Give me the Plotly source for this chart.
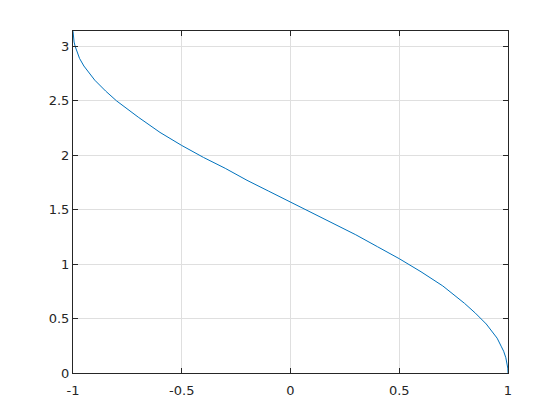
import plotly.graph_objects as go

# values
x_vals = [-1, -0.999, -0.998, -0.995, -0.99, -0.98, -0.97, -0.95, -0.9, -0.85, -0.8,
          -0.7, -0.6, -0.5, -0.4, -0.3, -0.2, -0.1, 0, 0.1, 0.2, 0.3, 0.4, 0.5,
          0.6, 0.7, 0.8, 0.85, 0.9, 0.95, 0.97, 0.98, 0.99, 0.995, 0.998, 0.999, 1]
y_vals = [3.14, 3.10, 3.08, 3.04, 3.00, 2.94, 2.89, 2.82, 2.69, 2.59, 2.50,
          2.35, 2.21, 2.09, 1.98, 1.88, 1.77, 1.67, 1.57, 1.47, 1.37, 1.27, 1.16, 1.05,
          0.93, 0.80, 0.64, 0.55, 0.45, 0.32, 0.24, 0.20, 0.14, 0.10, 0.063, 0.045, 0]

x_ticks = [-1, -0.5, 0, 0.5, 1]
x_labels = ["-1", "-0.5", "0", "0.5", "1"]
y_ticks = [0, 0.5, 1, 1.5, 2, 2.5, 3]
y_labels = ["0", "0.5", "1", "1.5", "2", "2.5", "3"]

fig = go.Figure()

fig.add_trace(
    go.Scatter(
        x=x_vals,
        y=y_vals,
        mode="lines",
        line=dict(color="#0072BD", width=1),
        showlegend=False,
        hoverinfo="none",
    )
)

axis_style = dict(
    showline=True,
    linecolor="#262626",
    linewidth=1,
    mirror="ticks",
    ticks="inside",
    ticklen=5,
    tickcolor="#262626",
    showgrid=True,
    gridcolor="#dfdfdf",
    gridwidth=1,
    zeroline=False,
    tickfont=dict(family="DejaVu Sans", size=13, color="#262626"),
)

fig.update_xaxes(range=[-1, 1], tickvals=x_ticks, ticktext=x_labels,
                 ticklabelstandoff=5, **axis_style)
fig.update_yaxes(range=[0, 3.14159], tickvals=y_ticks, ticktext=y_labels, **axis_style)

# page body has an 8px margin, so shift the plot area back
fig.update_layout(
    width=552,
    height=412,
    margin=dict(l=65, r=52, t=23, b=47),
    paper_bgcolor="white",
    plot_bgcolor="white",
)

fig.write_html("out.html")
